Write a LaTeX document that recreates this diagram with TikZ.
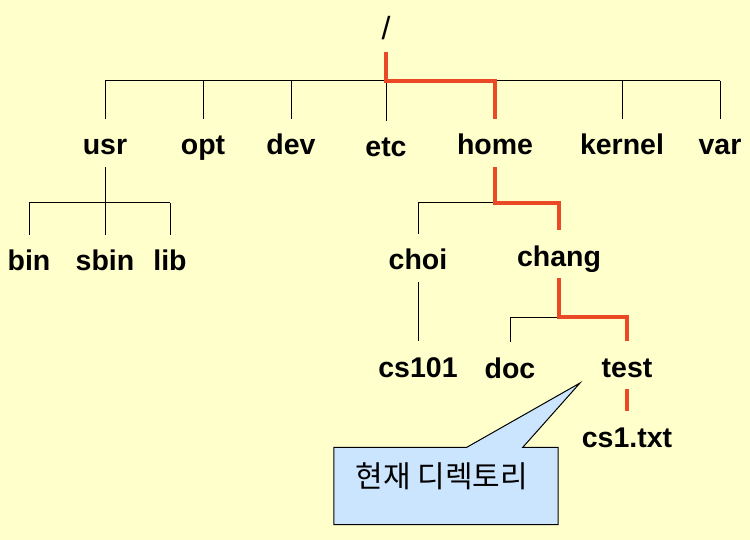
\documentclass[tikz,border=0pt]{standalone}
\usepackage{fontspec}
\setmainfont{Liberation Sans}
\newfontfamily\cjk{Noto Sans CJK KR}
\usetikzlibrary{positioning,calc}
\definecolor{bgyellow}{RGB}{255,255,204}
\definecolor{pathred}{RGB}{235,72,38}
\definecolor{tipblue}{RGB}{204,229,255}

\begin{document}
\begin{tikzpicture}[x=1pt,y=-1pt,
    dir/.style={font=\fontsize{28.5}{30}\selectfont\bfseries,inner xsep=2pt,inner ysep=12pt,
        text height=24pt,text depth=0pt},
    edge/.style={draw=black,line width=1pt},
    curpath/.style={draw=pathred,line width=3.5pt},
    tipbox/.style={draw=black,line width=1pt,fill=tipblue}
    ]
% Arborescence des repertoires, chemin du repertoire courant en rouge
\fill[bgyellow] (0,0) rectangle (750,540);
\useasboundingbox (0,0) rectangle (750,540);

\node[dir,font=\fontsize{32}{34}\selectfont] (root) at (386,28) {/};

\node[dir] (usr) at (105,143) {usr};
\node[dir] (opt) at (203,143) {opt};
\node[dir] (dev) at (291,143) {dev};
\node[dir] (etc) at (386,145) {etc};
\node[dir] (home) at (495,143) {home};
\node[dir] (kernel) at (622,143) {kernel};
\node[dir] (var) at (720,143) {var};

\node[dir] (bin) at (29,259) {bin};
\node[dir] (sbin) at (105,259) {sbin};
\node[dir] (lib) at (170,259) {lib};

\node[dir] (choi) at (418,258) {choi};
\node[dir] (chang) at (559,254) {chang};
\node[dir] (cs101) at (418,365) {cs101};
\node[dir] (doc) at (510,366) {doc};
\node[dir] (test) at (627,365) {test};
\node[dir] (cs1) at (627,435) {cs1.txt};

\coordinate (rootbus) at (0,81);
\coordinate (usrbus) at (usr.south |- 0,203);
\coordinate (homebus) at (home.south |- 0,203);
\coordinate (changbus) at (chang.south |- 0,317);

\draw[edge] (usr.north |- rootbus) -- (var.north |- rootbus);
\foreach \d in {usr,opt,dev,etc,kernel,var}
    \draw[edge] (\d.north |- rootbus) -- (\d.north);

\draw[edge] (usr.south) -- (usrbus);
\draw[edge] (bin.north |- usrbus) -- (lib.north |- usrbus);
\foreach \d in {bin,sbin,lib}
    \draw[edge] (\d.north |- usrbus) -- (\d.north);

\draw[edge] (choi.north) |- (homebus);
\draw[edge] (choi.south) -- (cs101.north);
\draw[edge] (doc.north) |- (changbus);

\draw[curpath] (root.south) |- (home.north |- rootbus) -- (home.north);
\draw[curpath] (home.south) -- (homebus) -| (chang.north);
\draw[curpath] (chang.south) -- (changbus) -| (test.north);
\draw[curpath] (test.south) -- (cs1.north);

% bulle
\coordinate (tip) at (580,383);
\node[minimum width=224pt,minimum height=77pt,inner sep=0pt] (cur) at (446,486) {};
\draw[tipbox] (cur.north west) -- ([xshift=133pt]cur.north west) -- (tip)
    -- ([xshift=189pt]cur.north west) -- (cur.north east) -- (cur.south east)
    -- (cur.south west) -- cycle;
\node[font=\cjk\fontsize{30}{32}\selectfont] (curtxt) at (442,476) {현재 디렉토리};
\end{tikzpicture}
\end{document}
